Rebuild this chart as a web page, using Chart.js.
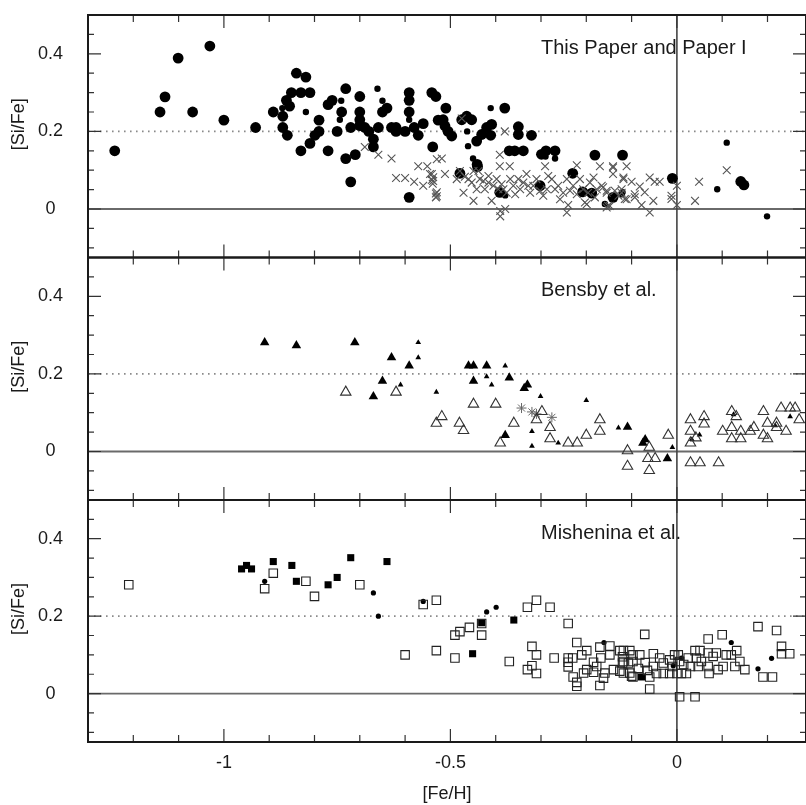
<!DOCTYPE html>
<html lang="en">
<head>
  <meta charset="UTF-8" />
  <title>[Si/Fe] versus [Fe/H]</title>
  <script src="https://cdn.jsdelivr.net/npm/chart.js"></script>
  <style>
    body { margin: 0; background: #fff; }
    .stack { position: relative; width: 806px; height: 805px; }
    .stack canvas { position: absolute; left: 0; top: 0; }
  </style>
</head>
<body>
  <div class="stack">
    <canvas id="panelTop" width="806" height="805"></canvas>
    <canvas id="panelMid" width="806" height="805"></canvas>
    <canvas id="panelBot" width="806" height="805"></canvas>
  </div>

  <script>
    // ---- data: [ [Fe/H], [Si/Fe] ] ----
    // This Paper and Paper I
    const p1Big = [
      [-1.241,0.15],[-1.141,0.25],[-1.130,0.289],[-1.101,0.389],[-1.069,0.25],[-1.031,0.42],[-1.0,0.229],
      [-0.930,0.21],[-0.891,0.25],[-0.870,0.239],[-0.870,0.21],[-0.860,0.19],[-0.862,0.28],[-0.855,0.265],
      [-0.851,0.30],[-0.84,0.35],[-0.83,0.30],[-0.819,0.34],[-0.81,0.30],[-0.83,0.15],[-0.81,0.169],
      [-0.799,0.19],[-0.79,0.2],[-0.79,0.229],[-0.770,0.269],[-0.761,0.28],[-0.77,0.15],[-0.75,0.2],
      [-0.74,0.25],[-0.731,0.31],[-0.731,0.13],[-0.72,0.21],[-0.72,0.07],[-0.71,0.14],[-0.70,0.29],
      [-0.70,0.25],[-0.70,0.23],[-0.70,0.215],[-0.689,0.21],[-0.68,0.2],[-0.67,0.18],[-0.67,0.16],
      [-0.659,0.21],[-0.65,0.25],[-0.64,0.26],[-0.63,0.21],[-0.62,0.21],[-0.62,0.2],[-0.60,0.2],
      [-0.591,0.30],[-0.591,0.28],[-0.591,0.25],[-0.591,0.03],[-0.58,0.21],[-0.571,0.19],[-0.56,0.22],
      [-0.541,0.30],[-0.532,0.29],[-0.539,0.16],[-0.527,0.229],[-0.510,0.26],[-0.516,0.23],[-0.512,0.214],
      [-0.505,0.2],[-0.497,0.188],[-0.464,0.239],[-0.453,0.23],[-0.475,0.23],[-0.38,0.26],[-0.409,0.218],
      [-0.42,0.21],[-0.431,0.192],[-0.411,0.19],[-0.442,0.175],[-0.441,0.115],[-0.35,0.212],[-0.35,0.192],
      [-0.321,0.19],[-0.37,0.15],[-0.358,0.15],[-0.339,0.15],[-0.299,0.141],[-0.289,0.15],[-0.269,0.15],
      [-0.181,0.139],[-0.12,0.139],[-0.23,0.092],[-0.479,0.092],[-0.01,0.079],[-0.391,0.043],
      [-0.208,0.044],[-0.188,0.041],[-0.141,0.03],[-0.302,0.06],[0.141,0.071],[0.148,0.062],[-0.44,0.109]
    ];
    const p1Small = [
      [-0.871,0.26],[-0.819,0.25],[-0.741,0.279],[-0.744,0.23],[-0.661,0.31],[-0.65,0.279],[-0.591,0.23],
      [-0.463,0.2],[-0.411,0.26],[-0.461,0.162],[-0.45,0.13],[-0.269,0.13],[-0.12,0.043],[-0.159,0.013],
      [0.11,0.171],[0.089,0.051],[0.199,-0.019],[-0.122,0.038],[-0.39,0.042],[-0.379,0.035],[-0.29,0.135]
    ];
    const p1Cross = [
      [-0.689,0.16],[-0.659,0.14],[-0.63,0.13],[-0.62,0.08],[-0.60,0.08],[-0.58,0.07],[-0.56,0.06],
      [-0.571,0.11],[-0.551,0.11],[-0.541,0.09],[-0.541,0.075],[-0.539,0.065],[-0.532,0.04],[-0.532,0.03],
      [-0.53,0.128],[-0.519,0.13],[-0.475,0.233],[-0.38,0.2],[-0.391,0.14],[-0.391,0.11],[-0.369,0.11],
      [-0.291,0.11],[-0.221,0.113],[-0.17,0.11],[-0.141,0.11],[-0.141,0.09],[-0.111,0.11],
      [-0.545,0.09],[-0.538,0.082],[-0.538,0.072],[-0.512,0.09],[-0.479,0.098],[-0.486,0.077],
      [-0.53,0.043],[-0.53,0.033],[-0.468,0.083],[-0.46,0.077],[-0.449,0.098],[-0.438,0.098],
      [-0.453,0.068],[-0.442,0.051],[-0.435,0.077],[-0.427,0.072],[-0.424,0.051],[-0.416,0.085],
      [-0.416,0.068],[-0.405,0.06],[-0.398,0.077],[-0.394,0.051],[-0.387,0.064],[-0.383,0.051],
      [-0.376,0.042],[-0.368,0.077],[-0.361,0.06],[-0.357,0.038],[-0.35,0.077],[-0.346,0.051],
      [-0.339,0.068],[-0.332,0.09],[-0.328,0.06],[-0.324,0.042],[-0.317,0.06],[-0.31,0.077],
      [-0.302,0.047],[-0.295,0.034],[-0.287,0.051],[-0.284,0.085],[-0.276,0.077],[-0.269,0.051],
      [-0.262,0.06],[-0.258,0.025],[-0.251,0.042],[-0.243,0.077],[-0.236,0.047],[-0.229,0.06],
      [-0.221,0.038],[-0.214,0.077],[-0.207,0.051],[-0.203,0.017],[-0.196,0.042],[-0.192,0.068],
      [-0.184,0.081],[-0.181,0.03],[-0.177,0.051],[-0.166,0.06],[-0.155,0.042],[-0.148,0.008],
      [-0.137,0.047],[-0.129,0.034],[-0.122,0.042],[-0.118,0.077],[-0.111,0.025],
      [-0.471,0.042],[-0.449,0.021],[-0.409,0.021],[-0.39,-0.005],[-0.39,-0.019],[-0.379,0.0],
      [-0.243,-0.009],[-0.24,0.01],[-0.199,0.012],[-0.155,0.004],
      [-0.141,0.107],[-0.118,0.081],[-0.1,0.07],[-0.06,0.081],[-0.049,0.07],[-0.038,0.07],
      [-0.082,0.058],[-0.071,0.043],[-0.093,0.038],[-0.093,0.03],[-0.163,0.056],[-0.155,0.047],
      [-0.122,0.051],[-0.115,0.026],[-0.078,0.01],[-0.052,0.021],[-0.06,-0.009],[-0.012,0.034],
      [-0.012,0.026],[0.0,0.01],[0.0,0.06],[0.049,0.07],[0.04,0.021],[0.11,0.1],[-0.152,0.008]
    ];

    // Bensby et al.
    const p2TriBig = [
      [-0.910,0.281],[-0.840,0.273],[-0.711,0.281],[-0.63,0.242],[-0.591,0.221],[-0.65,0.182],
      [-0.67,0.142],[-0.46,0.221],[-0.449,0.221],[-0.42,0.221],[-0.449,0.182],[-0.37,0.19],
      [-0.33,0.172],[-0.337,0.163],[-0.379,0.042],[-0.109,0.063],[-0.07,0.031],[-0.075,0.022],[-0.021,-0.018]
    ];
    const p2TriSmall = [
      [-0.571,0.281],[-0.571,0.242],[-0.61,0.172],[-0.531,0.153],[-0.379,0.221],[-0.42,0.193],
      [-0.409,0.172],[-0.301,0.142],[-0.2,0.132],[-0.32,0.052],[-0.32,0.014],[-0.262,0.022],
      [-0.129,0.061],[-0.01,0.011],[0.05,0.043],[0.25,0.09],[0.217,0.067],[0.125,0.095],[0.033,0.031]
    ];
    const p2TriOpen = [
      [-0.731,0.153],[-0.62,0.153],[-0.531,0.073],[-0.519,0.09],[-0.48,0.073],[-0.471,0.054],
      [-0.449,0.122],[-0.4,0.122],[-0.39,0.022],[-0.36,0.073],[-0.31,0.082],[-0.298,0.103],
      [-0.28,0.062],[-0.28,0.033],[-0.24,0.022],[-0.22,0.022],[-0.2,0.042],[-0.17,0.082],
      [-0.17,0.052],[-0.109,0.002],[-0.109,-0.038],[-0.061,0.011],[-0.064,-0.018],[-0.048,-0.018],
      [-0.061,-0.049],[-0.019,0.042],[0.03,0.082],[0.03,0.052],[0.03,0.022],[0.042,0.035],
      [0.06,0.09],[0.06,0.071],[0.03,-0.029],[0.051,-0.029],[0.092,-0.029],[0.101,0.052],
      [0.121,0.103],[0.131,0.09],[0.121,0.062],[0.121,0.033],[0.141,0.033],[0.141,0.052],
      [0.162,0.052],[0.17,0.062],[0.191,0.103],[0.191,0.042],[0.2,0.033],[0.2,0.073],[0.22,0.073],
      [0.23,0.112],[0.25,0.112],[0.261,0.112],[0.241,0.052],[0.27,0.082],[0.22,0.062]
    ];
    const p2Star = [[-0.343,0.112],[-0.32,0.102],[-0.31,0.097],[-0.276,0.088]];

    // Mishenina et al.
    const p3SqOpen = [
      [-1.21,0.281],[-0.91,0.271],[-0.891,0.311],[-0.819,0.29],[-0.8,0.251],[-0.7,0.281],[-0.6,0.1],
      [-0.56,0.23],[-0.531,0.241],[-0.531,0.111],[-0.49,0.092],[-0.49,0.151],[-0.479,0.16],
      [-0.458,0.171],[-0.431,0.151],[-0.431,0.181],[-0.37,0.083],[-0.33,0.223],[-0.31,0.241],
      [-0.28,0.223],[-0.24,0.181],[-0.32,0.122],[-0.31,0.1],[-0.32,0.072],[-0.33,0.062],[-0.31,0.052],
      [-0.271,0.092],[-0.221,0.132],[-0.199,0.111],[-0.21,0.1],[-0.24,0.092],[-0.24,0.081],
      [-0.24,0.069],[-0.23,0.092],[-0.229,0.043],[-0.221,0.029],[-0.221,0.019],[-0.206,0.053],
      [-0.199,0.062],[-0.184,0.081],[-0.177,0.07],[-0.184,0.055],[-0.17,0.12],[-0.148,0.123],
      [-0.148,0.1],[-0.168,0.092],[-0.159,0.053],[-0.162,0.04],[-0.17,0.021],[-0.14,0.062],
      [-0.118,0.111],[-0.118,0.083],[-0.118,0.053],[-0.107,0.079],[-0.1,0.045],
      [-0.071,0.153],[-0.126,0.111],[-0.104,0.111],[-0.12,0.095],[-0.097,0.1],[-0.082,0.1],
      [-0.097,0.083],[-0.12,0.079],[-0.126,0.058],[-0.104,0.053],[-0.097,0.043],[-0.06,0.043],
      [-0.052,0.103],[-0.038,0.092],[-0.03,0.079],[-0.052,0.07],[-0.045,0.052],[-0.03,0.052],
      [-0.016,0.052],[0.0,0.052],[0.01,0.052],[0.021,0.052],[-0.016,0.087],[-0.005,0.1],[0.003,0.1],
      [0.006,0.083],[-0.06,0.012],[0.006,-0.008],[0.04,-0.008],[0.04,0.111],[0.051,0.111],
      [0.043,0.092],[0.054,0.083],[0.047,0.07],[0.069,0.141],[0.069,0.105],[0.069,0.07],[0.071,0.052],
      [0.08,0.096],[0.087,0.105],[0.091,0.062],[0.1,0.152],[0.102,0.07],[0.109,0.1],[0.12,0.1],
      [0.132,0.111],[0.128,0.07],[0.139,0.083],[0.15,0.062],[0.179,0.173],[0.22,0.163],[0.231,0.122],
      [0.231,0.103],[0.249,0.103],[0.19,0.043],[0.211,0.043],
      [0.025,0.092],[0.03,0.07],[-0.01,0.07],[0.015,0.075],[-0.07,0.08],[-0.065,0.06],[-0.085,0.065]
    ];
    const p3SqFilled = [
      [-0.961,0.322],[-0.95,0.331],[-0.939,0.322],[-0.891,0.341],[-0.85,0.331],[-0.84,0.29],
      [-0.77,0.281],[-0.75,0.3],[-0.72,0.351],[-0.64,0.341],[-0.451,0.103],[-0.078,0.043],
      [-0.36,0.19],[-0.431,0.183]
    ];
    const p3DotSmall = [
      [-0.91,0.29],[-0.67,0.26],[-0.659,0.2],[-0.56,0.238],[-0.42,0.211],[-0.399,0.223],
      [-0.161,0.132],[0.12,0.132],[0.01,0.092],[0.209,0.091],[0.179,0.064],[-0.008,0.072]
    ];

    // axis ranges and labelled ticks
    const feHRange = [-1.3, 0.285];
    const siFeRange = [-0.125, 0.5];
    const feHTicks = [-1, -0.5, 0];
    const siFeTicks = [0, 0.2, 0.4];
    const siFeSolar = 0;
    const siFeDotted = 0.2;
    const feHSolar = 0;

    const FONT = "'Liberation Sans', Arial, Helvetica, sans-serif";
    const INK = '#1a1a1a';

    const toPts = arr => arr.map(([x, y]) => ({ x, y }));

    // frame, inward ticks, reference lines, y title and panel caption
    const framePlugin = {
      id: 'frame',
      beforeDatasetsDraw(chart) {
        const { ctx, chartArea: a, scales: { x, y } } = chart;
        ctx.save();
        // dotted line
        const yd = y.getPixelForValue(siFeDotted);
        ctx.strokeStyle = '#8a8a8a';
        ctx.lineWidth = 1.6;
        ctx.setLineDash([1.6, 4.4]);
        ctx.beginPath(); ctx.moveTo(a.left, yd); ctx.lineTo(a.right, yd); ctx.stroke();
        ctx.setLineDash([]);
        // solid zero line
        const y0 = y.getPixelForValue(siFeSolar);
        ctx.strokeStyle = '#6a6a6a';
        ctx.lineWidth = 1.8;
        ctx.beginPath(); ctx.moveTo(a.left, y0); ctx.lineTo(a.right, y0); ctx.stroke();
        // vertical solar line
        const x0 = x.getPixelForValue(feHSolar);
        ctx.strokeStyle = '#444';
        ctx.lineWidth = 1.6;
        ctx.beginPath(); ctx.moveTo(x0, a.top); ctx.lineTo(x0, a.bottom); ctx.stroke();
        ctx.restore();
      },
      afterDraw(chart, args, opts) {
        const { ctx, chartArea: a, scales: { x, y } } = chart;
        ctx.save();
        ctx.strokeStyle = '#333';
        ctx.lineWidth = 1.2;
        ctx.beginPath();
        for (let k = -13; k <= 2; k++) {
          const px = x.getPixelForValue(k / 10);
          const len = k % 5 === 0 ? 13 : 7;
          ctx.moveTo(px, a.top); ctx.lineTo(px, a.top + len);
          ctx.moveTo(px, a.bottom); ctx.lineTo(px, a.bottom - len);
        }
        for (let k = -2; k <= 10; k++) {
          const py = y.getPixelForValue(k * 0.05);
          const len = k % 4 === 0 ? 13 : 6;
          ctx.moveTo(a.left, py); ctx.lineTo(a.left + len, py);
          ctx.moveTo(a.right, py); ctx.lineTo(a.right - len, py);
        }
        ctx.stroke();
        ctx.strokeStyle = INK;
        ctx.lineWidth = 2;
        ctx.strokeRect(a.left, a.top, a.right - a.left, a.bottom - a.top);

        ctx.fillStyle = INK;
        ctx.textBaseline = 'middle';
        // y title, sitting a little above the panel middle as in the original
        ctx.font = '18px ' + FONT;
        ctx.textAlign = 'center';
        ctx.save();
        ctx.translate(19, (a.top + a.bottom) / 2 - 12);
        ctx.rotate(-Math.PI / 2);
        ctx.fillText('[Si/Fe]', 0, 0);
        ctx.restore();
        // caption
        ctx.font = '20px ' + FONT;
        ctx.textAlign = 'left';
        ctx.fillText(opts.label, 541, a.top + 33);
        ctx.restore();
      }
    };

    function makePanel(id, datasets, label, top, showX) {
      const xScale = {
        type: 'linear',
        min: feHRange[0],
        max: feHRange[1],
        display: showX,
        grid: { display: false },
        border: { display: false },
        afterBuildTicks: s => { s.ticks = feHTicks.map(v => ({ value: v })); },
        afterFit: s => { s.height = showX ? 63 : 0; s.paddingLeft = 0; s.paddingRight = 0; },
        ticks: {
          color: INK, font: { size: 18, family: FONT }, padding: 2, maxRotation: 0,
          callback: v => String(v)
        },
        title: {
          display: true, text: '[Fe/H]', color: INK,
          font: { size: 18, family: FONT }, padding: { top: 0, bottom: 0 }
        }
      };
      return new Chart(document.getElementById(id), {
        type: 'scatter',
        data: { datasets },
        options: {
          responsive: false,
          animation: false,
          events: [],
          layout: {
            autoPadding: false,
            padding: { top, bottom: showX ? 0 : 805 - top - 242.5, left: 0, right: 0 }
          },
          plugins: { legend: { display: false }, tooltip: { enabled: false }, frame: { label } },
          scales: {
            x: xScale,
            y: {
              type: 'linear',
              min: siFeRange[0],
              max: siFeRange[1],
              grid: { display: false },
              border: { display: false },
              afterBuildTicks: s => { s.ticks = siFeTicks.map(v => ({ value: v })); },
              afterFit: s => { s.width = 88; s.paddingTop = 0; s.paddingBottom = 0; },
              ticks: {
                color: INK, font: { size: 18, family: FONT }, crossAlign: 'center', padding: 17,
                callback: v => String(v)
              },
              title: { display: false }
            }
          }
        },
        plugins: [framePlugin]
      });
    }

    const filled = (data, style, r, color) => ({
      data: toPts(data), pointStyle: style, pointRadius: r,
      backgroundColor: color, borderColor: color, borderWidth: 0
    });
    const open = (data, style, r, color, w) => ({
      data: toPts(data), pointStyle: style, pointRadius: r,
      backgroundColor: 'rgba(0,0,0,0)', borderColor: color, borderWidth: w
    });

    makePanel('panelTop', [
      open(p1Cross, 'crossRot', 5.5, '#555', 1.1),
      filled(p1Big, 'circle', 5.4, '#000'),
      filled(p1Small, 'circle', 3.2, '#000')
    ], 'This Paper and Paper I', 15, false);

    makePanel('panelMid', [
      open(p2TriOpen, 'triangle', 6, '#333', 1.1),
      open(p2Star, 'star', 5, '#666', 1),
      filled(p2TriBig, 'triangle', 5.5, '#000'),
      filled(p2TriSmall, 'triangle', 3.3, '#000')
    ], 'Bensby et al.', 257.5, false);

    makePanel('panelBot', [
      open(p3SqOpen, 'rect', 6, '#222', 1.1),
      filled(p3SqFilled, 'rect', 5, '#000'),
      filled(p3DotSmall, 'circle', 2.6, '#000')
    ], 'Mishenina et al.', 500, true);
  </script>
</body>
</html>
